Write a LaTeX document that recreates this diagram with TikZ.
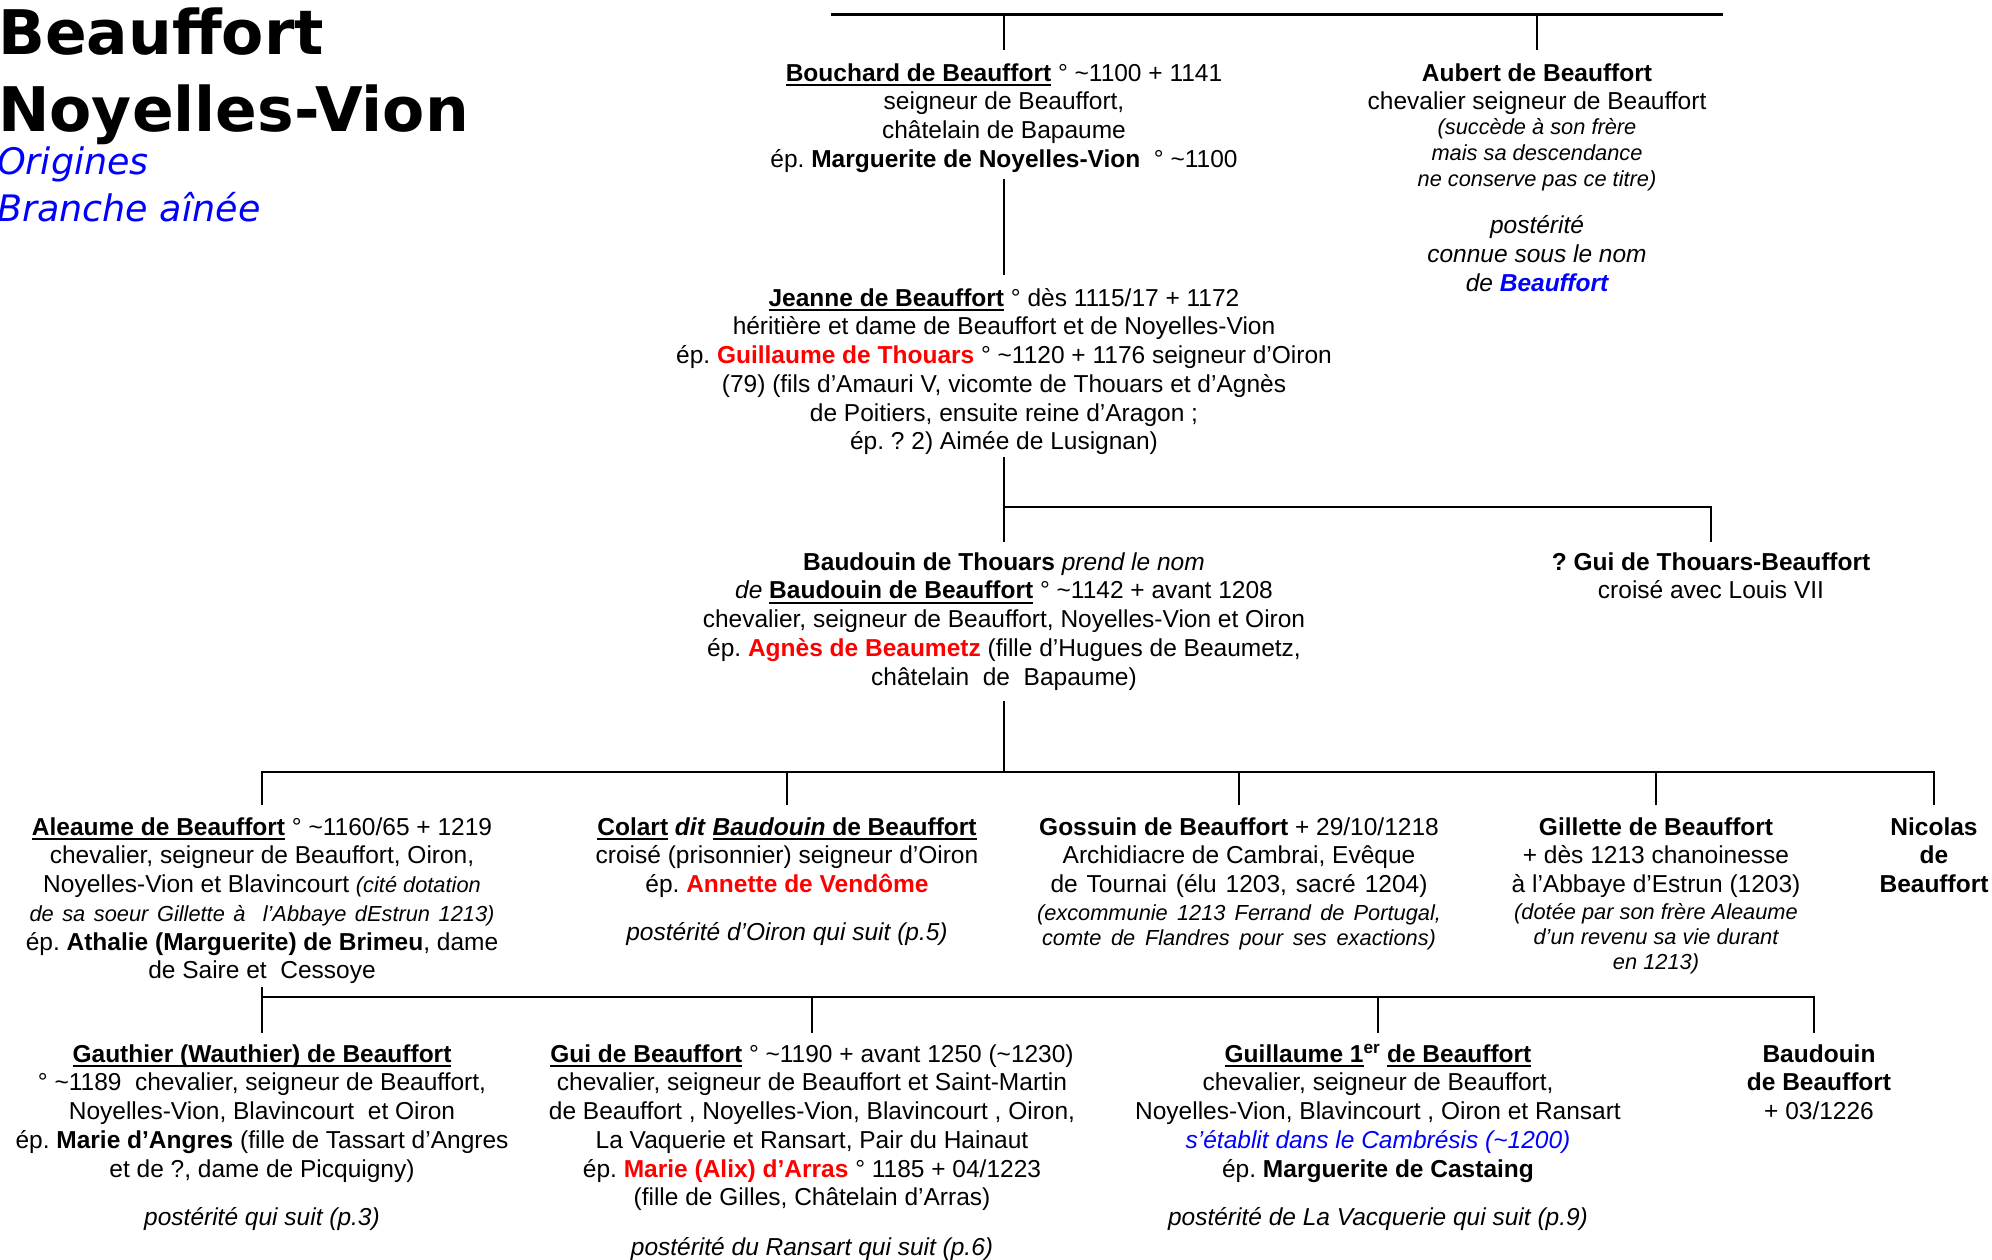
\documentclass[tikz,border=0pt]{standalone}
\usepackage{fontspec}
\setmainfont{Liberation Sans}
\newfontfamily\titlefont{DejaVu Sans}
\definecolor{myred}{HTML}{FF0000}
\definecolor{myblue}{HTML}{0000FF}
\frenchspacing
\newcommand\tld{\textasciitilde}
\newcommand\ulin[1]{\setbox0\hbox{#1}\rlap{\rule[-5pt]{\wd0}{2.2pt}}\box0\relax}
\newcommand\fl{\rule{0pt}{22pt}}
\newcommand\sm{\fontsize{21.8}{25.5}\selectfont}
\tikzset{
  person/.style={anchor=north, inner sep=0pt, align=center, font=\fontsize{24.5}{28.7}\selectfont},
  link/.style={line width=2.5pt},
  topbar/.style={line width=3pt},
  titleA/.style={anchor=base west, inner sep=0pt, font={\titlefont\fontsize{61.5}{72}\selectfont\bfseries}},
  titleB/.style={anchor=base west, inner sep=0pt, text=myblue, font={\titlefont\fontsize{36.5}{42}\selectfont\itshape}},
}
\begin{document}
\begin{tikzpicture}[x=1pt,y=-1pt]
\useasboundingbox (0,0) rectangle (1992,1260);

% titles
\node[titleA] (t1) at (-2,55) {Beauffort};
\node[titleA] (t2) at (-2,132) {Noyelles-Vion};
\node[titleB] (t3) at (-3,175) {Origines};
\node[titleB] (t4) at (-3,222) {Branche aînée};

% generation 1
\node[person] (bouchard) at (1004,59) {\fl\ulin{\textbf{Bouchard de Beauffort}} ° \tld1100 + 1141\\
seigneur de Beauffort,\\
châtelain de Bapaume\\
ép. \textbf{Marguerite de Noyelles-Vion}\ \ ° \tld1100};

\node[person] (aubert) at (1537,59) {\fl\textbf{Aubert de Beauffort}\\
chevalier seigneur de Beauffort\\[-4pt]
{\sm\itshape (succède à son frère}\\[-3pt]
{\sm\itshape mais sa descendance}\\[-3pt]
{\sm\itshape ne conserve pas ce titre)}\\[19pt]
{\itshape postérité}\\
{\itshape connue sous le nom}\\
{\itshape de \textcolor{myblue}{\textbf{Beauffort}}}};

% generation 2
\node[person] (jeanne) at (1004,284) {\fl\ulin{\textbf{Jeanne de Beauffort}} ° dès 1115/17 + 1172\\
héritière et dame de Beauffort et de Noyelles-Vion\\
ép. \textcolor{myred}{\textbf{Guillaume de Thouars}} ° \tld1120 + 1176 seigneur d’Oiron\\
(79) (fils d’Amauri V, vicomte de Thouars et d’Agnès\\
de Poitiers, ensuite reine d’Aragon ;\\
ép. ? 2) Aimée de Lusignan)};

% generation 3
\node[person] (baudouin) at (1004,548) {\fl\textbf{Baudouin de Thouars} \textit{prend le nom}\\
\textit{de} \ulin{\textbf{Baudouin de Beauffort}} ° \tld1142 + avant 1208\\
chevalier, seigneur de Beauffort, Noyelles-Vion et Oiron\\
ép. \textcolor{myred}{\textbf{Agnès de Beaumetz}} (fille d’Hugues de Beaumetz,\\
châtelain\ \ de\ \ Bapaume)};

\node[person] (guith) at (1711,548) {\fl\textbf{? Gui de Thouars-Beauffort}\\
croisé avec Louis VII};

% generation 4
\node[person] (aleaume) at (262,813) {\fl\ulin{\textbf{Aleaume de Beauffort}} ° \tld1160/65 + 1219\\
chevalier, seigneur de Beauffort, Oiron,\\
Noyelles-Vion et Blavincourt {\sm\itshape (cité dotation}\\
{\sm\itshape\makebox[465pt][s]{de sa soeur Gillette à\ \ l’Abbaye dEstrun 1213)}}\\
ép. \textbf{Athalie (Marguerite) de Brimeu}, dame\\
de Saire et\ \ Cessoye};

\node[person] (colart) at (787,813) {\fl\ulin{\textbf{Colart}} \textbf{\textit{dit}} \ulin{\textbf{\textit{Baudouin} de Beauffort}}\\
croisé (prisonnier) seigneur d’Oiron\\
ép. \textcolor{myred}{\textbf{Annette de Vendôme}}\\[19.5pt]
{\itshape postérité d’Oiron qui suit (p.5)}};

\node[person] (gossuin) at (1239,813) {\fl\textbf{Gossuin de Beauffort} + 29/10/1218\\
Archidiacre de Cambrai, Evêque\\
\makebox[377pt][s]{de Tournai (élu 1203, sacré 1204)}\\[-1pt]
{\sm\itshape\makebox[404pt][s]{(excommunie 1213 Ferrand de Portugal,}}\\[-3.7pt]
{\sm\itshape\makebox[394pt][s]{comte de Flandres pour ses exactions)}}};

\node[person] (gillette) at (1656,813) {\fl\textbf{Gillette de Beauffort}\\
+ dès 1213 chanoinesse\\
à l’Abbaye d’Estrun (1203)\\[-1.7pt]
{\sm\itshape (dotée par son frère Aleaume}\\[-3.7pt]
{\sm\itshape d’un revenu sa vie durant}\\[-3.7pt]
{\sm\itshape en 1213)}};

\node[person] (nicolas) at (1934,813) {\fl\textbf{Nicolas}\\ \textbf{de}\\ \textbf{Beauffort}};

% generation 5
\node[person] (gauthier) at (262,1040) {\fl\ulin{\textbf{Gauthier (Wauthier) de Beauffort}}\\
° \tld1189\ \ chevalier, seigneur de Beauffort,\\
Noyelles-Vion, Blavincourt\ \ et Oiron\\
ép. \textbf{Marie d’Angres} (fille de Tassart d’Angres\\
et de ?, dame de Picquigny)\\[19.5pt]
{\itshape postérité qui suit (p.3)}};

\node[person] (gui) at (812,1040) {\fl\ulin{\textbf{Gui de Beauffort}} ° \tld1190 + avant 1250 (\tld1230)\\
chevalier, seigneur de Beauffort et Saint-Martin\\
de Beauffort , Noyelles-Vion, Blavincourt , Oiron,\\
La Vaquerie et Ransart, Pair du Hainaut\\
ép. \textcolor{myred}{\textbf{Marie (Alix) d’Arras}} ° 1185 + 04/1223\\
(fille de Gilles, Châtelain d’Arras)\\[21pt]
{\itshape postérité du Ransart qui suit (p.6)}};

\node[person] (guillaume) at (1378,1040) {\fl\ulin{\textbf{Guillaume 1}}\textbf{\textsuperscript{er}} \ulin{\textbf{de Beauffort}}\\
chevalier, seigneur de Beauffort,\\
Noyelles-Vion, Blavincourt , Oiron et Ransart\\
{\itshape\textcolor{myblue}{s’établit dans le Cambrésis (\tld1200)}}\\
ép. \textbf{Marguerite de Castaing}\\[19.5pt]
{\itshape postérité de La Vacquerie qui suit (p.9)}};

\node[person] (baud2) at (1819,1040) {\fl\textbf{Baudouin}\\ \textbf{de Beauffort}\\ + 03/1226};

% connectors
\coordinate (topL) at (831,15);
\coordinate (topR) at (1723,15);
\coordinate (bus2) at (1004,507);
\coordinate (bus3) at (262,772);
\coordinate (bus4) at (262,997);
\coordinate (bus4R) at (1814,997);

\draw[topbar] (topL) -- (topR);
\draw[link, shorten >=9pt] (bouchard.north |- topL) -- (bouchard.north);
\draw[link, shorten >=9pt] (aubert.north |- topL) -- (aubert.north);
\draw[link, shorten <=6pt, shorten >=9pt] (bouchard.south) -- (jeanne.north);

\draw[link, shorten <=2pt, shorten >=6pt] (jeanne.south) -- (baudouin.north);
\draw[link, shorten >=6pt] (bus2) -- (guith.north |- bus2) -- (guith.north);

\draw[link, shorten <=11pt] (baudouin.south) -- (baudouin.south |- bus3);
\draw[link, shorten <=8pt, shorten >=8pt] (aleaume.north) -- (aleaume.north |- bus3) -- (nicolas.north |- bus3) -- (nicolas.north);
\draw[link, shorten >=8pt] (colart.north |- bus3) -- (colart.north);
\draw[link, shorten >=8pt] (gossuin.north |- bus3) -- (gossuin.north);
\draw[link, shorten >=8pt] (gillette.north |- bus3) -- (gillette.north);

\draw[link, shorten <=3pt, shorten >=7pt] (aleaume.south) -- (gauthier.north);
\draw[link, shorten >=7pt] (bus4) -- (bus4R) -- (bus4R |- baud2.north);
\draw[link, shorten >=7pt] (gui.north |- bus4) -- (gui.north);
\draw[link, shorten >=7pt] (guillaume.north |- bus4) -- (guillaume.north);
\end{tikzpicture}
\end{document}
